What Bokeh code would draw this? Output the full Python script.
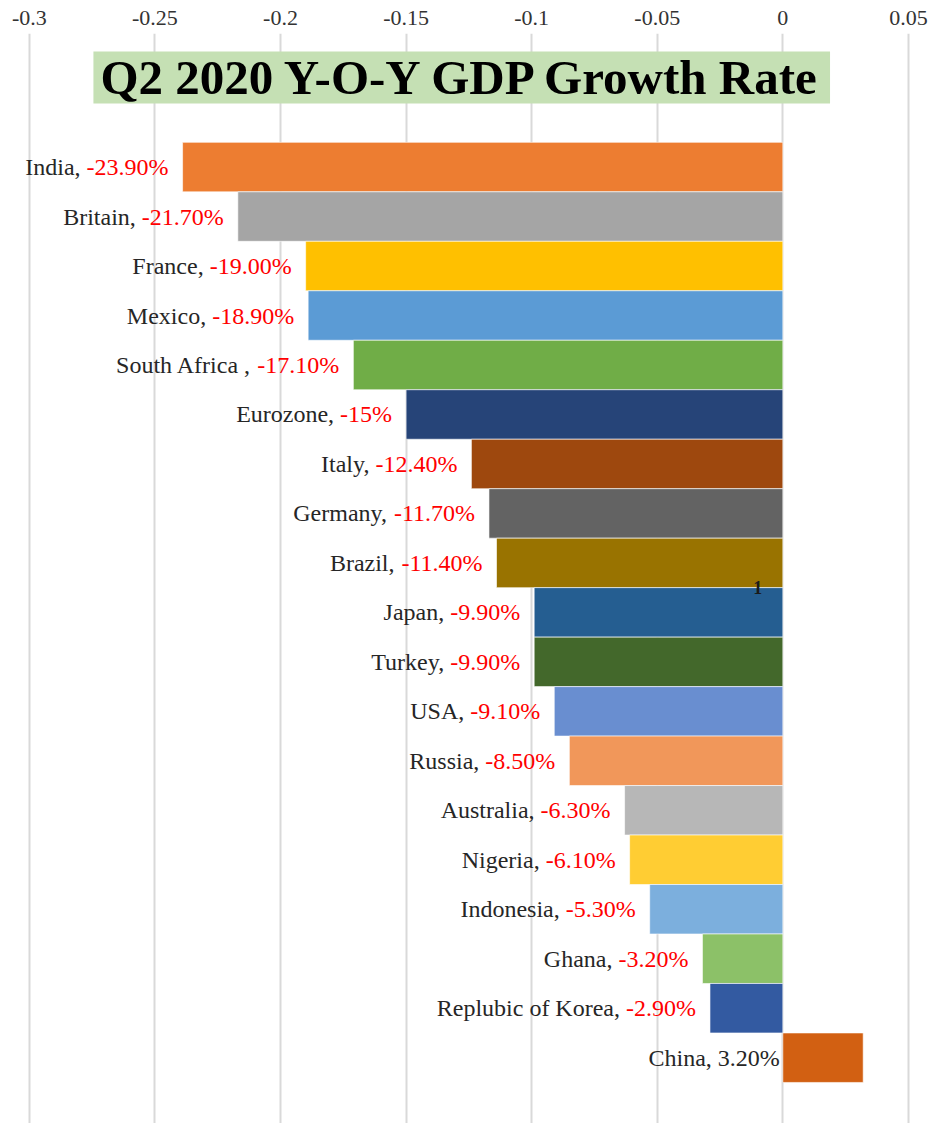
from bokeh.plotting import figure
from bokeh.models import Range1d, FixedTicker, Label, BoxAnnotation, ColumnDataSource
from bokeh.core.properties import value
from bokeh.embed import file_html
from bokeh.resources import INLINE

countries = ["India", "Britain", "France", "Mexico", "South Africa ", "Eurozone", "Italy",
             "Germany", "Brazil", "Japan", "Turkey", "USA", "Russia", "Australia", "Nigeria",
             "Indonesia", "Ghana", "Replubic of Korea", "China"]
growth = [-0.239, -0.217, -0.19, -0.189, -0.171, -0.15, -0.124, -0.117, -0.114, -0.099,
          -0.099, -0.091, -0.085, -0.063, -0.061, -0.053, -0.032, -0.029, 0.032]
growth_labels = ["-23.90%", "-21.70%", "-19.00%", "-18.90%", "-17.10%", "-15%", "-12.40%",
                 "-11.70%", "-11.40%", "-9.90%", "-9.90%", "-9.10%", "-8.50%", "-6.30%",
                 "-6.10%", "-5.30%", "-3.20%", "-2.90%", "3.20%"]
bar_colors = ["#ED7D31", "#A5A5A5", "#FFC000", "#5B9BD5", "#70AD47", "#264478", "#9E480E",
              "#636363", "#997300", "#255E91", "#43682B", "#698ED0", "#F1975A", "#B7B7B7",
              "#FFCD33", "#7CAFDD", "#8CC168", "#335AA1", "#D26012"]
tick_values = [-0.3, -0.25, -0.2, -0.15, -0.1, -0.05, 0, 0.05]
tick_labels = ["-0.3", "-0.25", "-0.2", "-0.15", "-0.1", "-0.05", "0", "0.05"]
title_text = "Q2 2020 Y-O-Y GDP Growth Rate"
stray_text = ["1"]
stray_value = [-0.01]

FONT = "Liberation Serif"
LABEL_PX = 24
# approximate Times/Liberation Serif advance widths (em)
CHAR_W = {"-": 0.333, ".": 0.25, "%": 0.833, ",": 0.25, " ": 0.25}


def text_width(s, px):
    return sum(CHAR_W.get(c, 0.5) for c in s) * px


n = len(countries)
ypos = [-i for i in range(n)]
anchor = [min(v, 0) for v in growth]
val_off = [-14 if v < 0 else -3 for v in growth]
name_off = [o - text_width(t, LABEL_PX) for o, t in zip(val_off, growth_labels)]
val_color = ["#FF0000" if v < 0 else "#262626" for v in growth]
names = [c + ", " for c in countries]

src = ColumnDataSource(dict(y=ypos, v=growth, color=bar_colors, ax=anchor, name=names,
                            lab=growth_labels, voff=val_off, noff=name_off, vcol=val_color))

p = figure(width=932, height=1123, output_backend="svg", toolbar_location=None,
           x_range=Range1d(-0.3115, 0.0596), y_range=Range1d(-19.33, 2.70),
           x_axis_location="above", y_axis_location=None, min_border=0)
p.min_border_top = 33
p.outline_line_color = None
p.background_fill_color = "white"
p.border_fill_color = "white"

p.xaxis.ticker = FixedTicker(ticks=tick_values)
p.xaxis.major_label_overrides = {t: l for t, l in zip(tick_values, tick_labels)}
p.xaxis.axis_line_color = None
p.xaxis.major_tick_line_color = None
p.xaxis.minor_tick_line_color = None
p.xaxis.major_label_text_font = FONT
p.xaxis.major_label_text_font_size = "22px"
p.xaxis.major_label_text_color = "#333333"
p.xaxis.major_label_standoff = 3

p.ygrid.visible = False
p.xgrid.ticker = FixedTicker(ticks=tick_values)
p.xgrid.grid_line_color = "#D9D9D9"
p.xgrid.grid_line_width = 2

p.hbar(y="y", left=0, right="v", height=1, fill_color="color", line_color="white",
       line_width=0.6, source=src)

p.text(x="ax", y="y", text="lab", x_offset="voff", text_align="right", text_baseline="middle",
       text_font=value(FONT), text_font_size=f"{LABEL_PX}px", text_color="vcol", source=src)
p.text(x="ax", y="y", text="name", x_offset="noff", text_align="right", text_baseline="middle",
       text_font=value(FONT), text_font_size=f"{LABEL_PX}px", text_color="#262626", source=src)

# stray marker between Brazil and Japan
bi = countries.index("Brazil")
p.text(x=stray_value, y=[(ypos[bi] + ypos[bi + 1]) / 2], text=stray_text, text_align="center",
       text_baseline="middle", text_font=value(FONT), text_font_style="bold",
       text_font_size="18px", text_color="#1a1a1a")

box = BoxAnnotation(left=-0.2745, right=0.0188, top=2.336, bottom=1.286,
                    fill_color="#C5E0B4", fill_alpha=1.0, line_color=None)
p.add_layout(box)
title = Label(x=(-0.2745 + 0.0188) / 2, y=(2.336 + 1.286) / 2, text=title_text,
              text_align="center", text_baseline="middle", text_font=FONT,
              text_font_style="bold", text_font_size="49px", text_color="black")
p.add_layout(title)

open("out.html", "w").write(file_html(p, INLINE))
